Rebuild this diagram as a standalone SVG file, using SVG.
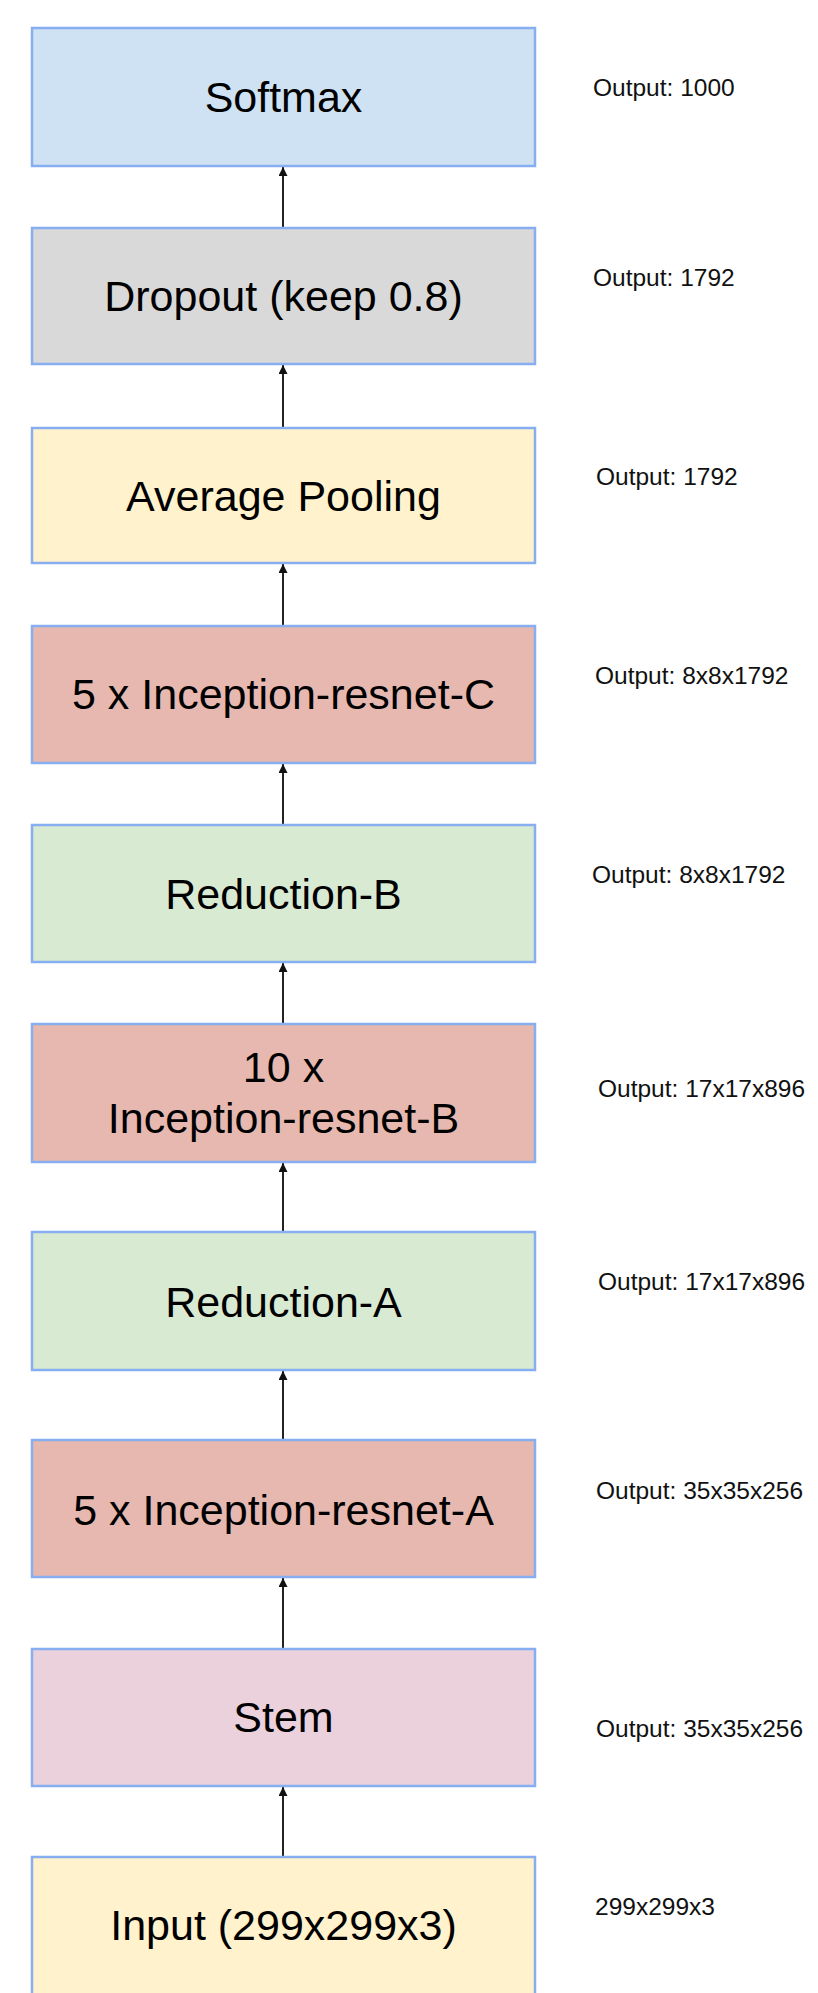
<svg xmlns="http://www.w3.org/2000/svg" width="818" height="1993" viewBox="0 0 818 1993">
<style>
.box{stroke:#86aef0;stroke-width:2.5}
.t{font-family:"Liberation Sans",Arial,sans-serif;font-size:43px;fill:#000;text-anchor:middle}
.l{font-family:"Liberation Sans",Arial,sans-serif;font-size:24.5px;fill:#111}
.c{stroke:#222;stroke-width:2;fill:none;marker-end:url(#ah)}
</style>
<defs>
<marker id="ah" viewBox="0 0 10 10" refX="10" refY="5" markerWidth="5.5" markerHeight="4.5" orient="auto" markerUnits="strokeWidth">
<path d="M0,0 L10,5 L0,10 z" fill="#111"/>
</marker>
</defs>
<rect width="818" height="1993" fill="#fff"/>
<g id="connectors">
<line class="c" x1="283" y1="228" x2="283" y2="167"/>
<line class="c" x1="283" y1="428" x2="283" y2="365"/>
<line class="c" x1="283" y1="626" x2="283" y2="564"/>
<line class="c" x1="283" y1="825" x2="283" y2="764"/>
<line class="c" x1="283" y1="1024" x2="283" y2="963"/>
<line class="c" x1="283" y1="1232" x2="283" y2="1163"/>
<line class="c" x1="283" y1="1440" x2="283" y2="1371"/>
<line class="c" x1="283" y1="1649" x2="283" y2="1578"/>
<line class="c" x1="283" y1="1857" x2="283" y2="1787"/>
</g>
<g id="softmax">
<rect class="box" x="32" y="28" width="503" height="138" fill="#cfe2f3"/>
<text class="t" x="283.5" y="112">Softmax</text>
<text class="l" x="593" y="96">Output: 1000</text>
</g>
<g id="dropout">
<rect class="box" x="32" y="228" width="503" height="136" fill="#d9d9d9"/>
<text class="t" x="283.5" y="311">Dropout (keep 0.8)</text>
<text class="l" x="593" y="286">Output: 1792</text>
</g>
<g id="avgpool">
<rect class="box" x="32" y="428" width="503" height="135" fill="#fff2cc"/>
<text class="t" x="283.5" y="511">Average Pooling</text>
<text class="l" x="596" y="485">Output: 1792</text>
</g>
<g id="incC">
<rect class="box" x="32" y="626" width="503" height="137" fill="#e6b8af"/>
<text class="t" x="283.5" y="709">5 x Inception-resnet-C</text>
<text class="l" x="595" y="684">Output: 8x8x1792</text>
</g>
<g id="redB">
<rect class="box" x="32" y="825" width="503" height="137" fill="#d9ead3"/>
<text class="t" x="283.5" y="909">Reduction-B</text>
<text class="l" x="592" y="883">Output: 8x8x1792</text>
</g>
<g id="incB">
<rect class="box" x="32" y="1024" width="503" height="138" fill="#e6b8af"/>
<text class="t" x="283.5" y="1082">10 x</text>
<text class="t" x="283.5" y="1133">Inception-resnet-B</text>
<text class="l" x="598" y="1097">Output: 17x17x896</text>
</g>
<g id="redA">
<rect class="box" x="32" y="1232" width="503" height="138" fill="#d9ead3"/>
<text class="t" x="283.5" y="1317">Reduction-A</text>
<text class="l" x="598" y="1290">Output: 17x17x896</text>
</g>
<g id="incA">
<rect class="box" x="32" y="1440" width="503" height="137" fill="#e6b8af"/>
<text class="t" x="283.5" y="1525">5 x Inception-resnet-A</text>
<text class="l" x="596" y="1499">Output: 35x35x256</text>
</g>
<g id="stem">
<rect class="box" x="32" y="1649" width="503" height="137" fill="#ead1dc"/>
<text class="t" x="283.5" y="1732">Stem</text>
<text class="l" x="596" y="1737">Output: 35x35x256</text>
</g>
<g id="input">
<rect class="box" x="32" y="1857" width="503" height="140" fill="#fff2cc"/>
<text class="t" x="283.5" y="1940">Input (299x299x3)</text>
<text class="l" x="595" y="1915">299x299x3</text>
</g>
</svg>
